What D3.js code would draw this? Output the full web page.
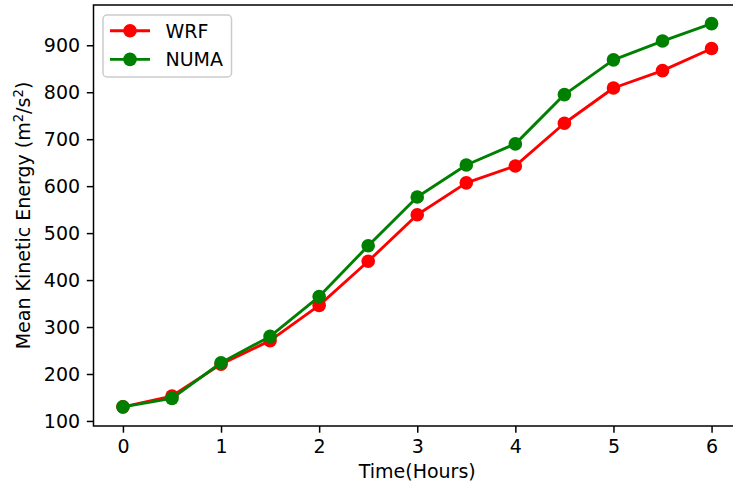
<!DOCTYPE html>
<html><head><meta charset="utf-8">
<script src="https://cdn.jsdelivr.net/npm/d3@7"></script>
<style>body{margin:0;background:#fff}svg{display:block}text{font-family:"DejaVu Sans",sans-serif;fill:#000}</style>
</head><body><svg id="c" width="733" height="485"></svg>
<script>
const hours = [0,0.5,1,1.5,2,2.5,3,3.5,4,4.5,5,5.5,6];
const wrf  = [130,153,221,271,346,440,539,607,643,734,809,846,893];
const numa = [130,148,224,280,365,473,577,645,690,795,869,909,946];
const xTicks = [0,1,2,3,4,5,6];
const yTicks = [100,200,300,400,500,600,700,800,900];
const seriesNames = ["WRF","NUMA"];
const seriesColors = ["#ff0000","#008000"];

const svg = d3.select("#c");
const L=93.5, R=741, T=5, B=426;
const x = d3.scaleLinear().domain([-0.3,6.3]).range([L,R]);
const y = d3.scaleLinear().domain([89.25,985.75]).range([B,T]);
const fs = 19;
const mr = 6.8;

const gx = svg.append("g").attr("transform",`translate(0,${B})`)
  .call(d3.axisBottom(x).tickValues(xTicks).tickFormat(d3.format("d")).tickSizeInner(6.7).tickSizeOuter(0).tickPadding(6.7));
const gy = svg.append("g").attr("transform",`translate(${L},0)`)
  .call(d3.axisLeft(y).tickValues(yTicks).tickFormat(d3.format("d")).tickSizeInner(6.7).tickSizeOuter(0).tickPadding(6.7));
[gx,gy].forEach(g=>{
  g.select(".domain").remove();
  g.selectAll(".tick line").attr("stroke","#000").attr("stroke-width",1.5);
  g.selectAll(".tick text").attr("font-size",fs).attr("font-family","DejaVu Sans").attr("fill","#000");
});

// frame
svg.append("rect").attr("x",L).attr("y",T).attr("width",R-L).attr("height",B-T)
  .attr("fill","none").attr("stroke","#000").attr("stroke-width",1.5);

const data = [wrf, numa];
const line = d3.line().x((d,i)=>x(hours[i])).y(d=>y(d));
data.forEach((vals,k)=>{
  svg.append("path").datum(vals).attr("d",line).attr("fill","none")
    .attr("stroke",seriesColors[k]).attr("stroke-width",2.9).attr("stroke-linejoin","round").attr("stroke-linecap","square");
  svg.append("g").selectAll("circle").data(vals).join("circle")
    .attr("cx",(d,i)=>x(hours[i])).attr("cy",d=>y(d)).attr("r",mr).attr("fill",seriesColors[k]);
});

// legend
const lg = svg.append("g");
lg.append("rect").attr("x",103).attr("y",15).attr("width",128.5).attr("height",62).attr("rx",4)
  .attr("fill","#fff").attr("fill-opacity",0.8).attr("stroke","#ccc").attr("stroke-width",1.5);
seriesNames.forEach((n,k)=>{
  const yy = 30.7 + k*28.7;
  lg.append("line").attr("x1",110).attr("x2",150).attr("y1",yy).attr("y2",yy)
    .attr("stroke",seriesColors[k]).attr("stroke-width",2.9);
  lg.append("circle").attr("cx",130).attr("cy",yy).attr("r",mr).attr("fill",seriesColors[k]);
  lg.append("text").attr("x",165.5).attr("y",yy).attr("dy","0.36em").attr("font-size",fs).text(n);
});

// axis labels
svg.append("text").attr("x",(L+R)/2).attr("y",478).attr("text-anchor","middle").attr("font-size",fs).text("Time(Hours)");
const yl = svg.append("text").attr("transform",`translate(30,${(T+B)/2}) rotate(-90)`).attr("text-anchor","middle").attr("font-size",fs);
yl.append("tspan").text("Mean Kinetic Energy (m");
yl.append("tspan").attr("font-size",13.3).attr("dy",-7).text("2");
yl.append("tspan").attr("dy",7).text("/s");
yl.append("tspan").attr("font-size",13.3).attr("dy",-7).text("2");
yl.append("tspan").attr("dy",7).text(")");
</script></body></html>
